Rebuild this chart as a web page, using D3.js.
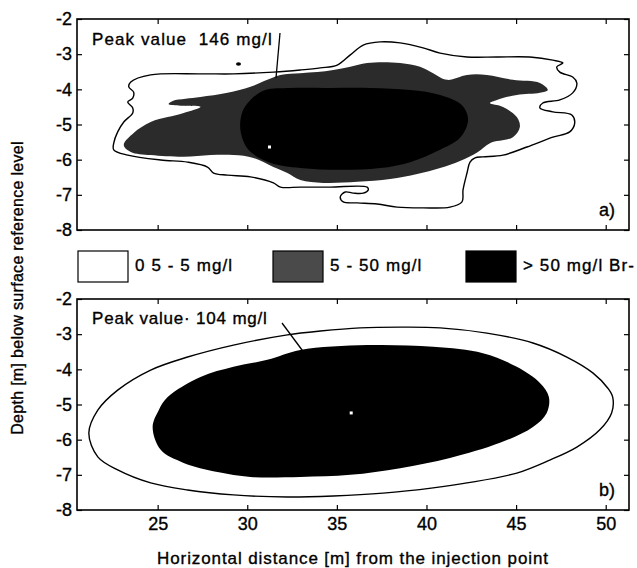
<!DOCTYPE html>
<html>
<head>
<meta charset="utf-8">
<script src="https://cdn.jsdelivr.net/npm/d3@7"></script>
<style>
  body { margin: 0; background: #fff; }
  svg { display: block; font-family: "Liberation Sans", Arial, Helvetica, sans-serif; }
  svg text { fill: #000; stroke: #000; stroke-width: 0.35px; }
  .tick line { stroke: #000; stroke-width: 1.2; }
</style>
</head>
<body>
<script>
// axis ticks
const xTicks = [25, 30, 35, 40, 45, 50];
const yTicks = [-2, -3, -4, -5, -6, -7, -8];

// legend classes
const legendLabels = ['0 5 - 5 mg/l', '5 - 50 mg/l', '> 50 mg/l Br-'];
const legendFills = ['#fff', '#4a4a4a', '#000'];

// panel a) measured plume, contours as [distance m, depth m]
const aOuter = [[23.50,-3.79],[24.61,-3.59],[27.39,-3.56],[29.23,-3.56],[31.46,-3.51],[32.96,-3.45],[34.08,-3.39],[35.02,-3.31],[35.75,-3.02],[36.47,-2.74],[37.42,-2.65],[38.53,-2.68],[39.81,-2.82],[40.76,-2.97],[42.26,-3.08],[43.93,-3.08],[45.77,-3.08],[47.05,-3.17],[47.61,-3.25],[47.27,-3.36],[47.44,-3.51],[48.16,-3.65],[48.39,-3.82],[48.16,-4.10],[47.44,-4.30],[46.49,-4.39],[46.33,-4.53],[47.05,-4.64],[48.11,-4.73],[48.27,-4.96],[47.99,-5.21],[47.05,-5.36],[45.60,-5.64],[44.27,-5.87],[43.15,-5.92],[42.71,-5.95],[42.43,-6.07],[42.26,-6.38],[42.04,-6.86],[41.98,-7.20],[41.31,-7.35],[39.81,-7.37],[38.36,-7.35],[37.25,-7.26],[36.14,-7.23],[35.36,-7.20],[35.19,-7.06],[35.47,-6.92],[35.91,-6.95],[36.47,-6.95],[36.75,-6.86],[36.69,-6.78],[34.63,-6.78],[32.96,-6.78],[31.85,-6.78],[31.46,-6.66],[30.18,-6.49],[28.90,-6.44],[28.12,-6.38],[27.78,-6.21],[26.67,-6.07],[25.17,-6.01],[23.33,-5.87],[22.55,-5.72],[22.55,-5.53],[22.77,-5.21],[23.11,-4.93],[23.61,-4.67],[23.61,-4.53],[23.33,-4.36],[23.61,-4.25],[23.66,-4.08],[23.39,-3.93]];
const aMid = [[23.11,-5.58],[23.66,-5.24],[24.61,-4.93],[25.56,-4.79],[26.45,-4.67],[27.39,-4.50],[26.28,-4.47],[25.61,-4.42],[25.84,-4.33],[26.56,-4.27],[27.39,-4.22],[28.90,-4.10],[30.18,-3.93],[31.12,-3.73],[31.85,-3.59],[32.96,-3.54],[33.91,-3.51],[34.80,-3.45],[35.75,-3.36],[36.69,-3.25],[38.53,-3.25],[39.64,-3.36],[40.37,-3.54],[41.15,-3.73],[42.26,-3.59],[43.37,-3.59],[44.82,-3.73],[46.33,-3.82],[46.77,-4.02],[46.33,-4.10],[45.04,-4.16],[43.93,-4.30],[43.54,-4.39],[44.27,-4.50],[45.04,-4.79],[45.21,-5.07],[44.82,-5.36],[43.54,-5.53],[42.87,-5.78],[41.87,-6.04],[40.76,-6.24],[39.48,-6.41],[37.97,-6.55],[36.14,-6.63],[34.24,-6.66],[32.96,-6.58],[32.24,-6.38],[31.46,-6.21],[30.35,-5.95],[29.23,-5.87],[27.95,-5.87],[26.45,-5.92],[24.61,-5.87],[23.50,-5.78]];
const aCore = [[30.18,-4.30],[31.01,-4.02],[32.41,-3.96],[34.63,-3.96],[36.86,-3.96],[39.09,-4.02],[40.76,-4.16],[41.98,-4.45],[42.32,-4.87],[41.87,-5.38],[40.76,-5.72],[39.09,-6.07],[37.42,-6.24],[35.19,-6.29],[32.96,-6.24],[31.29,-6.09],[30.07,-5.72],[29.62,-5.16],[29.73,-4.64]];
const aSpot = [29.51, -3.28];
const aPeak = [31.24, -5.64];

// panel b) simulated plume
const bOuter = [[21.16,-5.81],[21.66,-5.16],[22.77,-4.59],[24.61,-4.02],[26.67,-3.65],[29.23,-3.31],[32.24,-3.02],[34.08,-2.91],[36.30,-2.82],[38.53,-2.80],[40.76,-2.82],[43.37,-2.97],[45.94,-3.25],[47.83,-3.65],[49.28,-4.10],[50.11,-4.53],[50.39,-4.79],[50.33,-5.24],[49.67,-5.72],[48.39,-6.21],[46.88,-6.58],[45.04,-6.95],[42.26,-7.23],[40.37,-7.37],[37.58,-7.52],[34.80,-7.60],[32.24,-7.63],[29.23,-7.57],[26.67,-7.43],[24.61,-7.23],[22.77,-6.86],[21.66,-6.49]];
const bCore = [[24.72,-5.64],[25.06,-5.16],[25.56,-4.79],[27.39,-4.22],[29.23,-3.93],[31.12,-3.73],[32.96,-3.45],[36.69,-3.31],[40.37,-3.36],[43.15,-3.54],[45.04,-3.93],[46.33,-4.39],[46.83,-4.79],[46.71,-5.24],[45.94,-5.64],[44.10,-6.09],[41.31,-6.52],[38.53,-6.81],[35.75,-7.00],[32.96,-7.06],[30.18,-7.06],[28.34,-6.92],[26.45,-6.66],[25.17,-6.29]];
const bPeak = [35.80, -5.24];

const W = 637, H = 568;
const left = 77, right = 629, panelH = 211;

const svg = d3.select('body').append('svg')
  .attr('width', W)
  .attr('height', H);

const x = d3.scaleLinear().domain([20.5, 51.3]).range([left, right]);
const fmt = d => String(d);   // plain hyphen, as in the original

function drawPanel(top, tag, showX) {
  const y = d3.scaleLinear().domain([-2, -8]).range([top, top + panelH]);
  const g = svg.append('g');
  const line = d3.line()
    .x(d => x(d[0]))
    .y(d => y(d[1]))
    .curve(d3.curveCatmullRomClosed.alpha(0.5));

  // axes, ticks inside
  g.append('g')
    .attr('transform', `translate(${left},0)`)
    .call(d3.axisLeft(y).tickValues(yTicks).tickSize(-5).tickPadding(5).tickFormat(fmt))
    .call(a => a.select('.domain').remove());
  g.append('g')
    .attr('transform', `translate(${right},0)`)
    .call(d3.axisRight(y).tickValues(yTicks).tickSize(-5).tickFormat(''))
    .call(a => a.select('.domain').remove());
  g.append('g')
    .attr('transform', `translate(0,${top})`)
    .call(d3.axisTop(x).tickValues(xTicks).tickSize(-5).tickFormat(''))
    .call(a => a.select('.domain').remove());
  g.append('g')
    .attr('transform', `translate(0,${top + panelH})`)
    .call(d3.axisBottom(x).tickValues(xTicks).tickSize(-5).tickPadding(7)
      .tickFormat(showX ? fmt : ''))
    .call(a => a.select('.domain').remove());

  g.selectAll('.tick text')
    .attr('font-family', null).attr('font-size', null)
    .style('font-size', '18px');

  g.append('text')
    .attr('x', right - 14)
    .attr('y', top + panelH - 14)
    .attr('text-anchor', 'end')
    .style('font-size', '18px')
    .text(tag);

  return { g, y, line };
}

// panel a
const pa = drawPanel(19, 'a)', false);
pa.g.append('path').attr('d', pa.line(aOuter))
  .attr('fill', '#fff').attr('stroke', '#000').attr('stroke-width', 1.4);
pa.g.append('path').attr('d', pa.line(aMid)).attr('fill', '#2b2b2b');
pa.g.append('path').attr('d', pa.line(aCore)).attr('fill', '#000');
pa.g.append('ellipse')
  .attr('cx', x(aSpot[0])).attr('cy', pa.y(aSpot[1]))
  .attr('rx', 2.5).attr('ry', 1.8).attr('fill', '#000');
pa.g.append('rect')
  .attr('x', x(aPeak[0]) - 1.5).attr('y', pa.y(aPeak[1]) - 1.5)
  .attr('width', 3).attr('height', 3).attr('fill', '#fff');
pa.g.append('text')
  .attr('x', 92).attr('y', 45)
  .style('font-size', '17px').style('letter-spacing', '1.1px')
  .text('Peak value\u00a0 146 mg/l');
pa.g.append('line')
  .attr('x1', 280).attr('y1', 33).attr('x2', 276).attr('y2', 78)
  .attr('stroke', '#000').attr('stroke-width', 1.3);

// panel b
const pb = drawPanel(299, 'b)', true);
pb.g.append('path').attr('d', pb.line(bOuter))
  .attr('fill', '#fff').attr('stroke', '#000').attr('stroke-width', 1.4);
pb.g.append('path').attr('d', pb.line(bCore)).attr('fill', '#000');
pb.g.append('rect')
  .attr('x', x(bPeak[0]) - 1.5).attr('y', pb.y(bPeak[1]) - 1.5)
  .attr('width', 3).attr('height', 3).attr('fill', '#fff');
pb.g.append('text')
  .attr('x', 92).attr('y', 324)
  .style('font-size', '17px').style('letter-spacing', '0.8px')
  .text('Peak value\u00b7 104 mg/l');
pb.g.append('line')
  .attr('x1', 282).attr('y1', 323).attr('x2', 305).attr('y2', 354)
  .attr('stroke', '#000').attr('stroke-width', 1.3);

// frames on top
[19, 299].forEach(t => {
  svg.append('rect')
    .attr('x', left).attr('y', t)
    .attr('width', right - left).attr('height', panelH)
    .attr('fill', 'none').attr('stroke', '#000').attr('stroke-width', 1.6);
});

// legend
const legendX = [78, 273, 466];
const lg = svg.append('g');
legendLabels.forEach((lab, i) => {
  lg.append('rect')
    .attr('x', legendX[i]).attr('y', 251)
    .attr('width', 50).attr('height', 31)
    .attr('fill', legendFills[i]).attr('stroke', '#000').attr('stroke-width', 1.2);
  lg.append('text')
    .attr('x', legendX[i] + 57).attr('y', 271)
    .style('font-size', '17px').style('letter-spacing', '1.1px')
    .text(lab);
});

// axis titles
svg.append('text')
  .attr('transform', 'translate(23,288) rotate(-90)')
  .attr('text-anchor', 'middle')
  .style('font-size', '16px').style('letter-spacing', '0.3px')
  .text('Depth [m] below surface reference level');
svg.append('text')
  .attr('x', 353).attr('y', 564)
  .attr('text-anchor', 'middle')
  .style('font-size', '17px').style('letter-spacing', '0.9px')
  .text('Horizontal distance [m] from the injection point');
</script>
</body>
</html>
